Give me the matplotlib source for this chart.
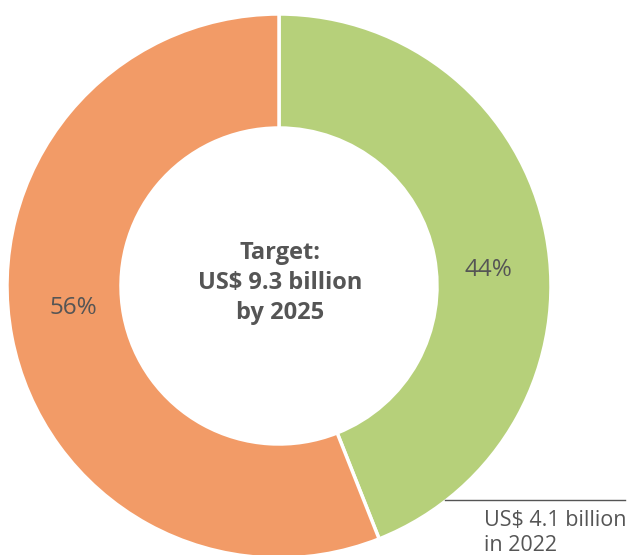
import matplotlib.pyplot as plt

# data
labels = ['2022 achieved', 'Remaining']
shares = [44, 56]
colors = ['#B6D07A', '#F29B67']
pct_labels = ['44%', '56%']
center_text = 'Target:\nUS$ 9.3 billion\nby 2025'
note_text = 'US$ 4.1 billion\nin 2022'

TEXT = '#555555'
plt.rcParams['font.family'] = ['Open Sans', 'DejaVu Sans']

fig = plt.figure(figsize=(6.3, 5.55), dpi=100)
ax = fig.add_axes([0, 0, 1, 1])

cx, cy, r_out, r_in = 279, 269, 272, 158
ax.pie(shares, colors=colors, startangle=90, counterclock=False,
       center=(cx, cy), radius=r_out, frame=True,
       wedgeprops=dict(width=r_out - r_in, edgecolor='white', linewidth=2.5))

ax.set_xlim(0, 630)
ax.set_ylim(0, 555)
ax.set_aspect('equal')
ax.axis('off')

ax.text(488, 285, pct_labels[0], ha='center', va='center', fontsize=17.5, color=TEXT)
ax.text(73, 247, pct_labels[1], ha='center', va='center', fontsize=17.5, color=TEXT)

ax.text(280, 272, center_text, ha='center', va='center', fontsize=17,
        fontweight='bold', color=TEXT, linespacing=1.35)

ax.plot([445, 625], [55, 55], color=TEXT, lw=1)
ax.text(484, 22, note_text, ha='left', va='center', fontsize=15.5, color=TEXT,
        linespacing=1.3)

fig.savefig('out.png', dpi=100)
